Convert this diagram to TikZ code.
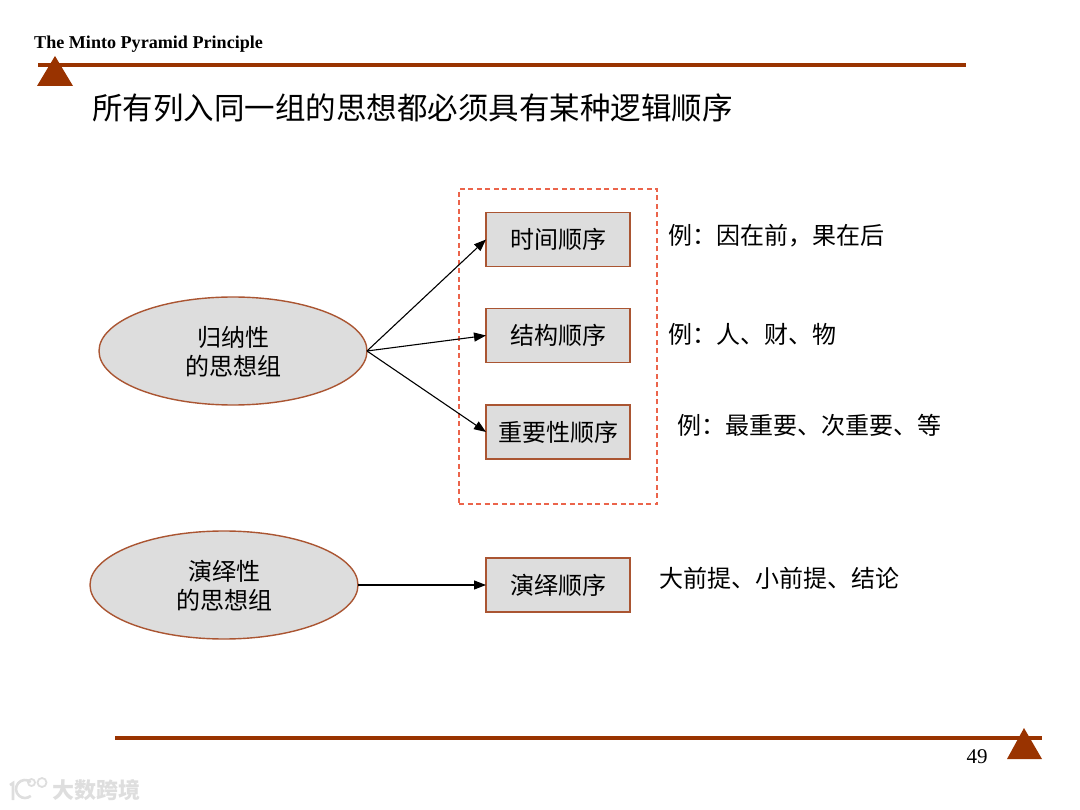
\documentclass[tikz,border=0pt]{standalone}
\usepackage{fontspec}
\setmainfont{Liberation Serif}
\newfontfamily\cjk{Noto Sans CJK SC}
\usetikzlibrary{arrows.meta,shapes.geometric}
\definecolor{rust}{RGB}{153,51,0}
\definecolor{boxline}{RGB}{170,85,50}
\definecolor{boxfill}{RGB}{221,221,221}
\definecolor{dashred}{RGB}{235,100,75}
\definecolor{wmark}{RGB}{222,222,222}
\tikzset{
  bar/.style={draw=rust,line width=4pt},
  tri/.style={fill=rust,draw=none},
  oval/.style={draw=boxline,fill=boxfill,line width=1.4pt,shape=ellipse,minimum width=268pt,minimum height=108pt,inner sep=0pt,outer sep=0pt,align=center,font=\cjk\fontsize{24}{29}\selectfont},
  orderbox/.style={draw=boxline,fill=boxfill,line width=1.4pt,minimum width=144pt,minimum height=54pt,inner sep=0pt,outer sep=0pt,font=\cjk\fontsize{24}{29}\selectfont},
  note/.style={anchor=west,inner sep=0pt,font=\cjk\fontsize{24}{29}\selectfont},
  link/.style={draw=black,line width=1.1pt,-{Triangle[length=12pt,width=9pt]}},
  wm/.style={draw=wmark,line width=2.6pt}
}
\begin{document}
\begin{tikzpicture}[x=1pt,y=-1pt]
\useasboundingbox (0,0) rectangle (1080,810);
% header
\node[anchor=west,inner sep=0pt,font=\bfseries\fontsize{18.1}{20}\selectfont] (head) at (34,44.5) {The Minto Pyramid Principle};
\coordinate (tl) at (38,65); \coordinate (tr) at (966,65);
\draw[bar] (tl) -- (tr);
\fill[tri] (55,56) -- (73,86) -- (37,86) -- cycle;
\node[anchor=west,inner sep=0pt,font=\cjk\fontsize{30.5}{36}\selectfont] (title) at (92,107.5) {所有列入同一组的思想都必须具有某种逻辑顺序};
% dashed group
\node[draw=dashred,line width=1.2pt,dash pattern=on 5pt off 3.5pt,minimum width=198pt,minimum height=315pt,inner sep=0pt,outer sep=0pt] (group) at (558,346.5) {};
% ovals
\node[oval,yshift=0pt] (ind) at (233,351) {};
\node[oval,yshift=0pt] (ded) at (224,585) {};
\node[inner sep=0pt,align=center,font=\cjk\fontsize{24}{29}\selectfont] (indtext) at (233,351.5) {归纳性\\的思想组};
\node[inner sep=0pt,align=center,font=\cjk\fontsize{24}{29}\selectfont] (dedtext) at (224,585.5) {演绎性\\的思想组};
% boxes
\node[orderbox] (b1) at (558,239.5) {时间顺序};
\node[orderbox] (b2) at (558,335.5) {结构顺序};
\node[orderbox] (b3) at (558,432) {重要性顺序};
\node[orderbox] (b4) at (558,585) {演绎顺序};
% connectors
\draw[link] (ind.east) -- (b1.west);
\draw[link] (ind.east) -- (b2.west);
\draw[link] (ind.east) -- (b3.west);
\draw[link] (ded.east) -- (b4.west);
% notes
\node[note] (n1) at (668,236) {例：因在前，果在后};
\node[note] (n2) at (668,334) {例：人、财、物};
\node[note] (n3) at (677,425) {例：最重要、次重要、等};
\node[note] (n4) at (659,578) {大前提、小前提、结论};
% footer
\coordinate (bl) at (115,738); \coordinate (br) at (1042,738);
\draw[bar] (bl) -- (br);
\fill[tri] (1024,728) -- (1042,759) -- (1007,759) -- cycle;
\node[inner sep=0pt,font=\fontsize{21}{24}\selectfont] (page) at (977,757) {49};
% watermark
\draw[wm] (10,785) -- (13,783) -- (13,800);
\draw[wm] (30.8,782.1) arc (-50:-310:9);
\draw[wm,line width=1.8pt] (31.5,782.5) circle (3.5);
\draw[wm,line width=1.8pt] (42,782.5) circle (4.5);
\node[anchor=west,inner sep=0pt,text=wmark,font=\cjk\bfseries\fontsize{22}{26}\selectfont] (wmtext) at (52,790) {大数跨境};
\end{tikzpicture}
\end{document}
